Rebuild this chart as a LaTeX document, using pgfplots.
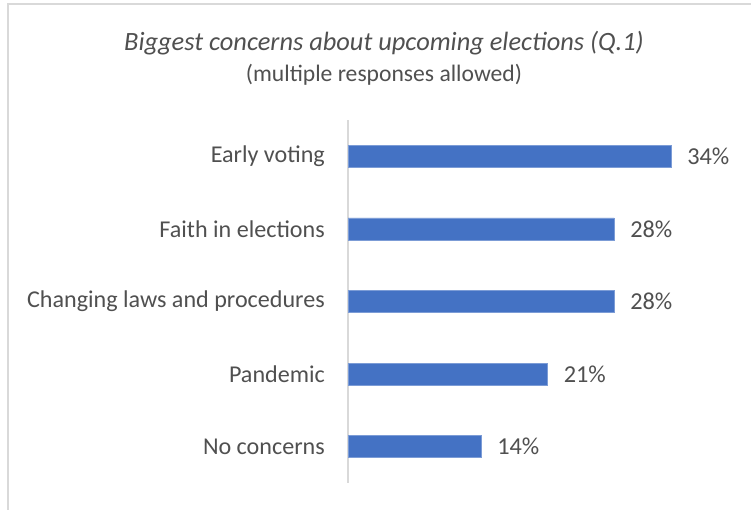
\documentclass[border=0pt]{standalone}
\usepackage{pgfplots}
\pgfplotsset{compat=1.18}
\usepackage{fontspec}
\setmainfont{Carlito}
\definecolor{barblue}{HTML}{4472C4}
\definecolor{txt}{HTML}{505050}
\definecolor{grid}{HTML}{D9D9D9}
\begin{document}
\begin{tikzpicture}[x=1bp,y=1bp]
\useasboundingbox (0,0) rectangle (751,510);
\fill[white] (0,0) rectangle (751,510);
\draw[grid, line width=1.5bp] (8,-5) -- (8,506) -- (760,506);
\node[txt, font=\fontsize{26.5}{31}\selectfont\itshape] at (384,466.5) {Biggest concerns about upcoming elections (Q.1)};
\node[txt, font=\fontsize{23.7}{28}\selectfont] at (384,435) {(multiple responses allowed)};
\begin{axis}[
  at={(348bp,27bp)}, anchor=south west,
  scale only axis, width=380bp, height=363bp,
  xmin=0, xmax=40, ymin=-0.5, ymax=4.5,
  axis x line=none, axis y line=left,
  y axis line style={grid, line width=1.5bp, -},
  ytick={0,1,2,3,4},
  yticklabels={No concerns, Pandemic, Changing laws and procedures, Faith in elections, Early voting},
  major tick length=0pt,
  yticklabel style={font=\fontsize{24.2}{28}\selectfont, text=txt, inner sep=0pt, xshift=-23bp},
  xbar, bar width=22bp,
  point meta=x,
  nodes near coords={\pgfmathprintnumber[assume math mode=true]{\pgfplotspointmeta}\%},
  nodes near coords style={font=\fontsize{24.4}{28}\selectfont, text=txt, anchor=west, inner sep=0pt, xshift=16bp},
  clip=false,
]
\addplot[fill=barblue, draw=barblue!70!white, line width=0.5bp] coordinates {(14,0) (21,1) (28,2) (28,3) (34,4)};
\end{axis}
\end{tikzpicture}
\end{document}
